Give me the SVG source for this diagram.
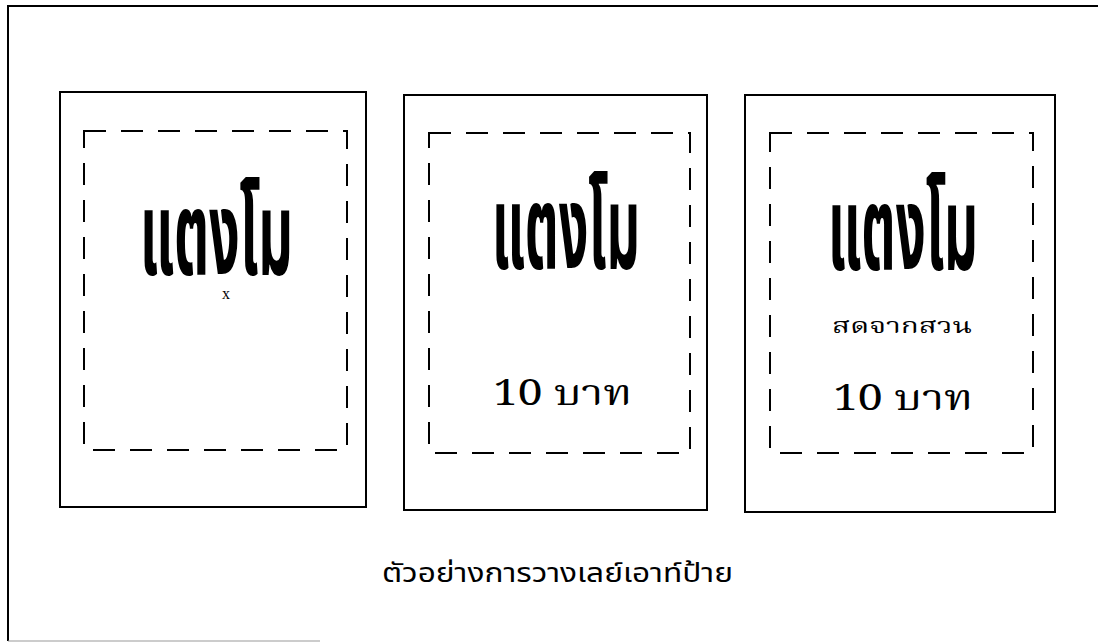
<svg xmlns="http://www.w3.org/2000/svg" width="1098" height="643" viewBox="0 0 1098 643">
<style>
.frame{fill:none;stroke:#000;stroke-width:2}
.card{fill:#fff;stroke:#000;stroke-width:2}
.dash{fill:none;stroke:#000;stroke-width:2;stroke-dasharray:22 15}
.big{font-family:"Noto Sans Thai","Noto Sans Thai UI","Loma","Garuda","DejaVu Sans",sans-serif;font-weight:bold;font-size:118px;fill:#000}
.price{font-family:"Noto Serif Thai","Norasi","Liberation Serif","DejaVu Serif",serif;font-size:36px;fill:#000}
.sub{font-family:"Noto Serif Thai","Norasi","Liberation Serif","DejaVu Serif",serif;font-size:22px;fill:#000}
.cap{font-family:"Noto Sans Thai","Loma","Garuda","DejaVu Sans",sans-serif;font-size:26px;fill:#000}
.x{font-family:"Liberation Serif",serif;font-size:16px;fill:#000}
</style>
<rect width="1098" height="643" fill="#fff"/>
<g id="frame">
<path d="M1098 6 H8 V641" class="frame"/>
<line x1="8" y1="641" x2="320" y2="641" stroke="#999" stroke-width="1"/>
</g>
<g id="card1">
<rect x="60" y="92" width="306" height="415" class="card"/>
<rect x="84" y="131" width="263" height="319" class="dash"/>
<text x="140" y="274" class="big" textLength="153" lengthAdjust="spacingAndGlyphs">แตงโม</text>
<text x="226" y="299" class="x" text-anchor="middle">x</text>
</g>
<g id="card2">
<rect x="404" y="95" width="303" height="415" class="card"/>
<rect x="429" y="133" width="261" height="320" class="dash"/>
<text x="492" y="268" class="big" textLength="148" lengthAdjust="spacingAndGlyphs">แตงโม</text>
<text x="493" y="405" class="price" textLength="139" lengthAdjust="spacingAndGlyphs">10 บาท</text>
</g>
<g id="card3">
<rect x="745" y="95" width="310" height="417" class="card"/>
<rect x="770" y="133" width="263" height="320" class="dash"/>
<text x="828" y="269" class="big" textLength="150" lengthAdjust="spacingAndGlyphs">แตงโม</text>
<text x="832" y="333" class="sub" textLength="140" lengthAdjust="spacingAndGlyphs">สดจากสวน</text>
<text x="833" y="410" class="price" textLength="140" lengthAdjust="spacingAndGlyphs">10 บาท</text>
</g>
<g id="caption">
<text x="382" y="582" class="cap" textLength="351" lengthAdjust="spacingAndGlyphs">ตัวอย่างการวางเลย์เอาท์ป้าย</text>
</g>
</svg>
